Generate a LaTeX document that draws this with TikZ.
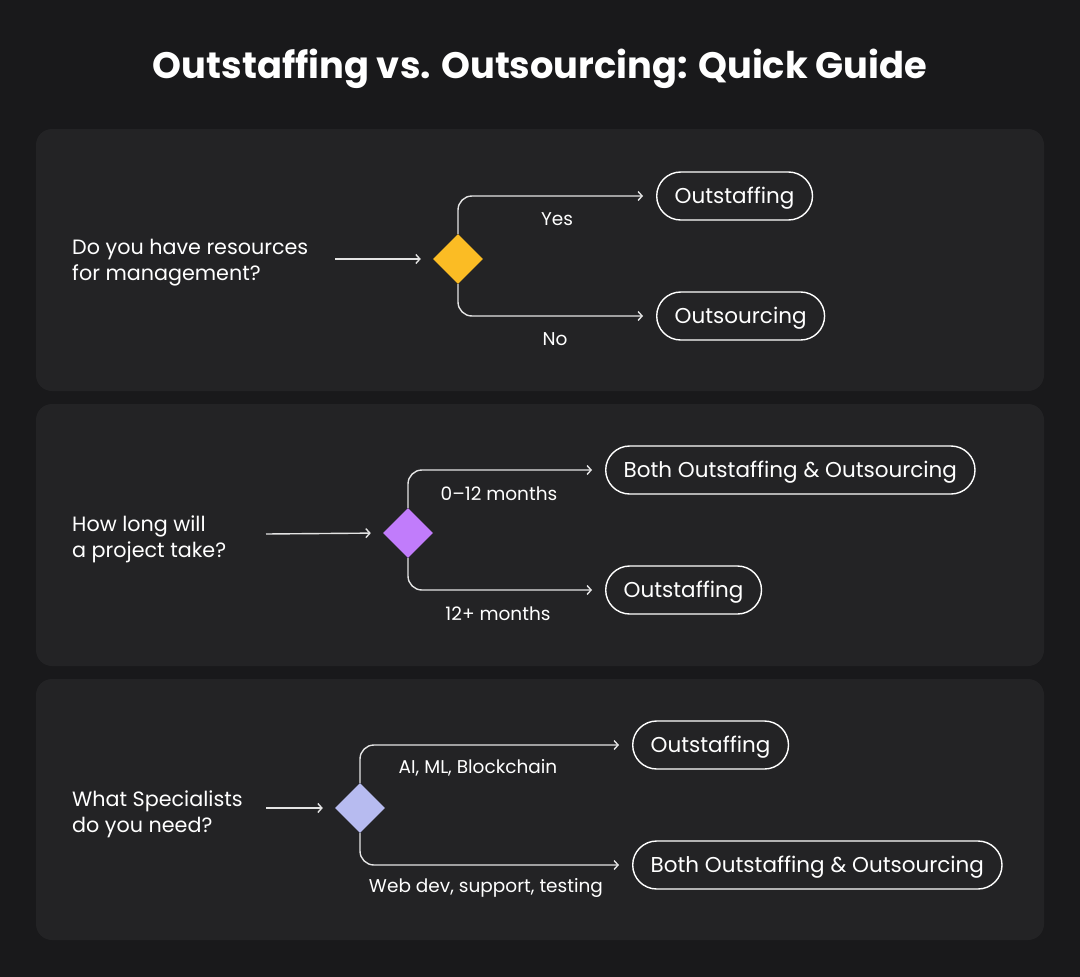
\documentclass[tikz,border=0pt]{standalone}
\usepackage{fontspec}
\setmainfont{Poppins}
\usetikzlibrary{shapes.geometric,arrows.meta,positioning}
\definecolor{bgdark}{HTML}{19191B}
\definecolor{panelgray}{HTML}{232325}
\definecolor{linegray}{HTML}{E4E4E4}
\definecolor{choiceyellow}{HTML}{FBBC24}
\definecolor{choicepurple}{HTML}{C17CFB}
\definecolor{choicelav}{HTML}{B7BBF0}
\tikzset{
  panel/.style={fill=panelgray,rounded corners=16},
  question/.style={anchor=west,align=left,text=white,font=\fontsize{20.7}{26}\selectfont,inner sep=0},
  choice/.style={diamond,inner sep=0,minimum width=50,minimum height=50},
  answer/.style={draw=white,line width=1.4,rounded corners=24,minimum height=48,anchor=west,
    text=white,font=\fontsize{21.5}{24}\selectfont,inner xsep=18,text height=15.2,text depth=0},
  branchlbl/.style={text=white,font=\fontsize{18.5}{20}\selectfont,inner sep=0},
  flow/.style={draw=linegray,line width=1.4,-{Straight Barb[length=4,width=9,line width=1.4]}},
}
\begin{document}
\begin{tikzpicture}[x=1pt,y=-1pt]
\useasboundingbox[fill=bgdark] (0,0) rectangle (1080,977);
\node[text=white,font=\fontsize{36.8}{40}\selectfont\bfseries] (title) at (540,69) {Outstaffing vs. Outsourcing: Quick Guide};
% panels
\fill[panel] (36,129) rectangle (1044,391);
\fill[panel] (36,404) rectangle (1044,666);
\fill[panel] (36,679) rectangle (1044,940);

% management
\node[question] (q1) at (72,263) {Do you have resources\\for management?};
\coordinate (s1) at (335,259);
\node[choice,fill=choiceyellow] (d1) at (458,259) {};
\node[answer] (a1) at (656,196) {Outstaffing};
\node[answer] (b1) at (656,316) {Outsourcing};
\node[branchlbl] (l1) at (557,219) {Yes};
\node[branchlbl] (m1) at (555,339) {No};
\draw[flow,shorten >=12] (s1) -- (d1.west);
\draw[flow,rounded corners=14,shorten >=13] (d1.north) |- (a1.west);
\draw[flow,rounded corners=14,shorten >=13] (d1.south) |- (b1.west);

% duration
\node[question] (q2) at (72,539) {How long will\\a project take?};
\coordinate (s2) at (266,534);
\node[choice,fill=choicepurple] (d2) at (408,533) {};
\node[answer] (a2) at (605,470) {Both Outstaffing \& Outsourcing};
\node[answer] (b2) at (605,590) {Outstaffing};
\node[branchlbl] (l2) at (499,494) {0–12 months};
\node[branchlbl] (m2) at (498,614) {12+ months};
\draw[flow,shorten >=12] (s2) -- (d2.west);
\draw[flow,rounded corners=14,shorten >=13] (d2.north) |- (a2.west);
\draw[flow,rounded corners=14,shorten >=13] (d2.south) |- (b2.west);

% specialists
\node[question] (q3) at (72,814) {What Specialists\\do you need?};
\coordinate (s3) at (266,808);
\node[choice,fill=choicelav] (d3) at (360,808) {};
\node[answer] (a3) at (632,745) {Outstaffing};
\node[answer] (b3) at (632,865) {Both Outstaffing \& Outsourcing};
\node[branchlbl] (l3) at (478,768) {AI, ML, Blockchain};
\node[branchlbl] (m3) at (486,888) {Web dev, support, testing};
\draw[flow,shorten >=12] (s3) -- (d3.west);
\draw[flow,rounded corners=14,shorten >=13] (d3.north) |- (a3.west);
\draw[flow,rounded corners=14,shorten >=13] (d3.south) |- (b3.west);
\end{tikzpicture}
\end{document}
